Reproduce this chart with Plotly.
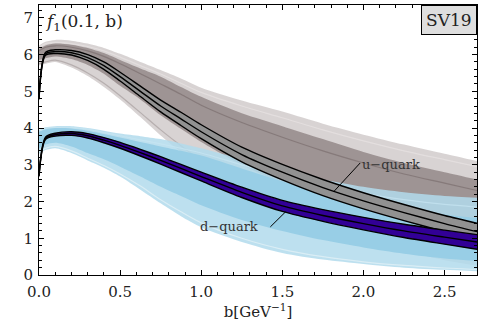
import plotly.graph_objects as go

# ---- data ----
X = [0, 0.04, 0.1, 0.2, 0.3, 0.4, 0.5, 0.625, 0.75, 0.875, 1.0, 1.25, 1.5, 1.75, 2.0, 2.25, 2.5, 2.7]

# u-quark central band
U_MID = [4.8, 6.02, 6.08, 6.05, 5.92, 5.7, 5.4, 5.0, 4.6, 4.25, 3.9, 3.28, 2.8, 2.38, 2.02, 1.7, 1.4, 1.18]
U_HI = [4.82, 6.06, 6.13, 6.11, 6.0, 5.8, 5.52, 5.14, 4.76, 4.43, 4.09, 3.48, 3.01, 2.6, 2.24, 1.92, 1.62, 1.41]
U_LO = [4.78, 5.98, 6.03, 5.99, 5.84, 5.6, 5.28, 4.86, 4.44, 4.07, 3.71, 3.08, 2.59, 2.16, 1.8, 1.48, 1.18, 0.95]

# d-quark central band
D_MID = [2.7, 3.72, 3.82, 3.85, 3.79, 3.67, 3.53, 3.33, 3.12, 2.9, 2.68, 2.25, 1.88, 1.62, 1.4, 1.2, 1.03, 0.9]
D_HI = [2.72, 3.75, 3.86, 3.9, 3.85, 3.74, 3.61, 3.42, 3.22, 3.01, 2.8, 2.39, 2.03, 1.78, 1.57, 1.38, 1.22, 1.1]
D_LO = [2.68, 3.69, 3.78, 3.8, 3.73, 3.6, 3.45, 3.24, 3.02, 2.79, 2.56, 2.11, 1.73, 1.46, 1.23, 1.02, 0.84, 0.7]

# replica clouds (envelopes)
U_OUT_HI = [6.25, 6.35, 6.4, 6.38, 6.3, 6.18, 6.02, 5.8, 5.58, 5.35, 5.1, 4.75, 4.45, 4.12, 3.82, 3.55, 3.3, 3.1]
U_OUT_LO = [5.7, 5.75, 5.8, 5.65, 5.42, 5.12, 4.78, 4.3, 3.8, 3.35, 2.95, 2.3, 1.75, 1.3, 0.95, 0.65, 0.4, 0.25]
U_IN_HI = [6.15, 6.25, 6.3, 6.27, 6.18, 6.04, 5.85, 5.62, 5.4, 5.12, 4.85, 4.4, 4.05, 3.7, 3.35, 3.05, 2.8, 2.6]
U_IN_LO = [5.85, 5.9, 5.95, 5.88, 5.72, 5.48, 5.15, 4.78, 4.35, 3.98, 3.62, 3.0, 2.5, 2.08, 1.72, 1.4, 1.12, 0.95]

D_OUT_HI = [3.95, 4.02, 4.05, 4.05, 4.0, 3.93, 3.85, 3.78, 3.7, 3.58, 3.45, 3.15, 2.85, 2.6, 2.4, 2.25, 2.15, 2.1]
D_OUT_LO = [3.3, 3.4, 3.45, 3.32, 3.12, 2.92, 2.68, 2.32, 1.95, 1.6, 1.3, 0.9, 0.6, 0.42, 0.3, 0.2, 0.14, 0.1]
D_IN_HI = [3.9, 3.97, 4.0, 3.99, 3.93, 3.84, 3.74, 3.62, 3.5, 3.38, 3.25, 2.9, 2.55, 2.25, 2.0, 1.8, 1.65, 1.55]
D_IN_LO = [3.45, 3.55, 3.6, 3.5, 3.32, 3.15, 2.95, 2.68, 2.4, 2.15, 1.9, 1.5, 1.2, 0.95, 0.75, 0.58, 0.45, 0.38]

# a few individual replica streaks
U_STREAK_A = [6.2, 6.3, 6.33, 6.3, 6.22, 6.1, 5.93, 5.7, 5.47, 5.22, 4.97, 4.6, 4.28, 3.95, 3.65, 3.38, 3.14, 2.95]
U_STREAK_B = [5.75, 5.8, 5.85, 5.72, 5.5, 5.22, 4.88, 4.42, 3.95, 3.52, 3.12, 2.5, 1.95, 1.5, 1.15, 0.85, 0.6, 0.45]
U_STREAK_C = [6.1, 6.2, 6.24, 6.2, 6.1, 5.95, 5.75, 5.48, 5.2, 4.92, 4.62, 4.15, 3.75, 3.38, 3.05, 2.75, 2.5, 2.3]
D_STREAK_A = [3.35, 3.45, 3.5, 3.38, 3.18, 2.98, 2.75, 2.42, 2.05, 1.72, 1.42, 1.0, 0.7, 0.5, 0.36, 0.26, 0.19, 0.15]
D_STREAK_B = [3.92, 4.0, 4.02, 4.02, 3.97, 3.88, 3.79, 3.68, 3.57, 3.45, 3.32, 3.0, 2.7, 2.44, 2.22, 2.05, 1.92, 1.85]

X_TICKS = [0.0, 0.5, 1.0, 1.5, 2.0, 2.5]
X_TICK_TEXT = ["0.0", "0.5", "1.0", "1.5", "2.0", "2.5"]
Y_TICKS = [0, 1, 2, 3, 4, 5, 6, 7]

FONT = "DejaVu Serif"
SM = 0.8

fig = go.Figure()


def band(lo, hi, fill, line_color="rgba(0,0,0,0)", width=0):
    fig.add_trace(go.Scatter(x=X, y=lo, mode="lines", line=dict(color=line_color, width=width, shape="spline", smoothing=SM),
                             hoverinfo="skip", showlegend=False))
    fig.add_trace(go.Scatter(x=X, y=hi, mode="lines", fill="tonexty", fillcolor=fill,
                             line=dict(color=line_color, width=width, shape="spline", smoothing=SM),
                             hoverinfo="skip", showlegend=False))


def streak(y, color, width=1.2):
    fig.add_trace(go.Scatter(x=X, y=y, mode="lines", line=dict(color=color, width=width, shape="spline", smoothing=SM),
                             hoverinfo="skip", showlegend=False))


# gray replicas (u)
band(U_OUT_LO, U_OUT_HI, "rgba(192,184,184,0.62)")
band(U_IN_LO, U_IN_HI, "rgba(138,125,125,0.74)")
streak(U_STREAK_A, "rgba(235,230,230,0.6)")
streak(U_STREAK_C, "rgba(110,95,95,0.5)")
streak(U_STREAK_B, "rgba(150,140,140,0.5)")
# blue replicas (d)
band(D_OUT_LO, D_OUT_HI, "rgba(178,218,236,0.85)")
band(D_IN_LO, D_IN_HI, "rgba(152,206,230,1)")
streak(D_STREAK_A, "rgba(225,240,246,0.8)")
streak(D_STREAK_B, "rgba(200,230,242,0.7)")

# central bands
band(U_LO, U_HI, "rgb(145,145,145)", "black", 1.4)
fig.add_trace(go.Scatter(x=X, y=U_MID, mode="lines", line=dict(color="black", width=1.4, shape="spline", smoothing=SM),
                         hoverinfo="skip", showlegend=False))
band(D_LO, D_HI, "rgb(50,0,150)", "black", 1.4)
fig.add_trace(go.Scatter(x=X, y=D_MID, mode="lines", line=dict(color="black", width=1.4, shape="spline", smoothing=SM),
                         hoverinfo="skip", showlegend=False))

# pointer lines
fig.add_shape(type="line", x0=1.815, y0=2.26, x1=1.98, y1=3.05, line=dict(color="black", width=1))
fig.add_shape(type="line", x0=1.426, y0=1.31, x1=1.52, y1=1.72, line=dict(color="black", width=1))

fig.add_annotation(x=2.17, y=3.0, text="u\u2212quark", showarrow=False,
                   font=dict(family=FONT, size=13, color="#333"))
fig.add_annotation(x=1.17, y=1.31, text="d\u2212quark", showarrow=False,
                   font=dict(family=FONT, size=13, color="#333"))

fig.add_annotation(xref="paper", yref="paper", x=0.008, y=0.985, xanchor="left", yanchor="top",
                   text="<i>f</i><sub>1</sub>(0.1, b)", showarrow=False,
                   font=dict(family=FONT, size=17, color="#222"))
fig.add_annotation(xref="paper", yref="paper", x=1.0, y=1.0, xanchor="right", yanchor="top",
                   text="SV19", showarrow=False, bgcolor="rgb(222,222,222)", bordercolor="black",
                   borderwidth=1, borderpad=4, font=dict(family=FONT, size=17, color="#222"))

axis_common = dict(showline=True, linecolor="black", linewidth=1, mirror="allticks", ticks="inside",
                   ticklen=5, tickcolor="black", showgrid=False, zeroline=False,
                   tickfont=dict(family=FONT, size=15, color="#222"))

fig.update_xaxes(range=[0, 2.7], tickvals=X_TICKS, ticktext=X_TICK_TEXT, ticklabelstandoff=3,
                 minor=dict(ticks="inside", dtick=0.1, ticklen=3, tickcolor="black"),
                 title=dict(text="b[GeV<sup>\u22121</sup>]", font=dict(family=FONT, size=15, color="#222"), standoff=1),
                 **axis_common)
fig.update_yaxes(range=[0, 7.35], tickvals=Y_TICKS, ticklabelstandoff=2,
                 minor=dict(ticks="inside", dtick=0.2, ticklen=3, tickcolor="black"),
                 **axis_common)

fig.update_layout(width=486, height=327, margin=dict(l=39, r=9, t=5, b=52),
                  plot_bgcolor="white", paper_bgcolor="white", showlegend=False)

fig.write_html("out.html")
